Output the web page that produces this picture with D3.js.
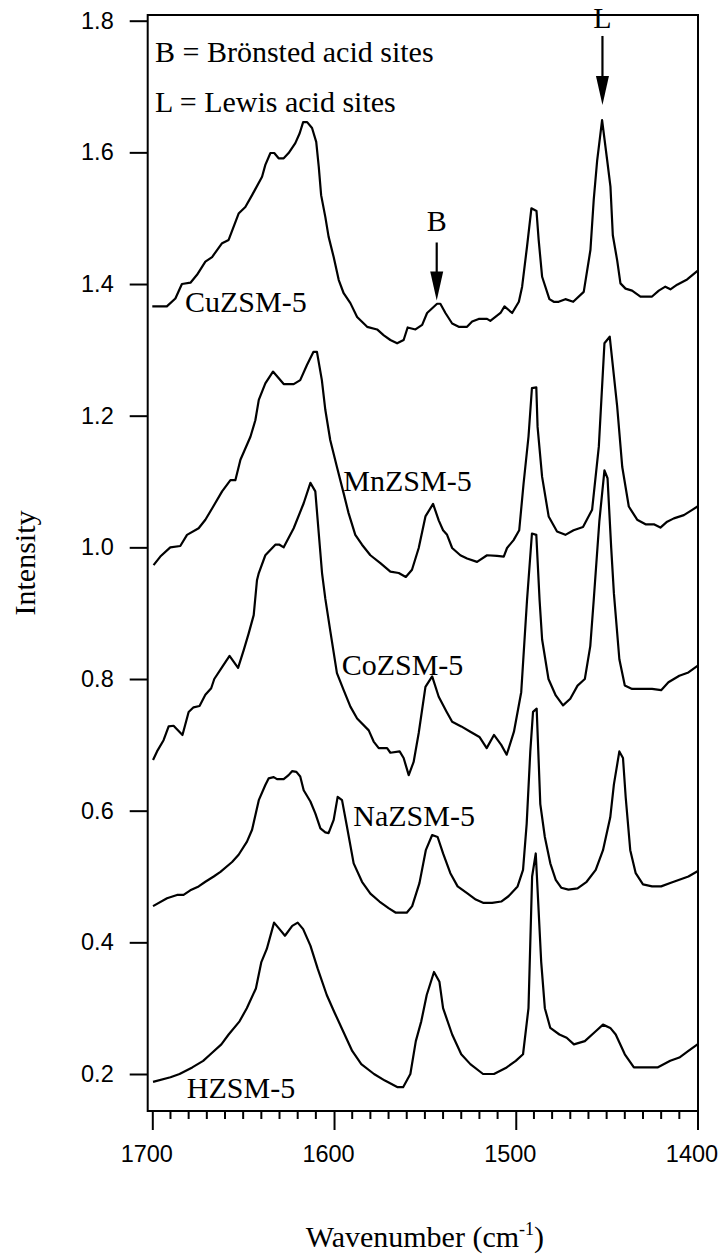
<!DOCTYPE html>
<html>
<head>
<meta charset="utf-8">
<script src="https://cdn.jsdelivr.net/npm/d3@7"></script>
<style>
  body { margin: 0; background: #fff; }
  svg { display: block; }
</style>
</head>
<body>
<div id="chart"></div>
<script>
// spectra: [wavenumber (cm-1), intensity]
const cuZSM5 = [[1700,1.366],[1692,1.366],[1687.3,1.378],[1683.7,1.400],[1679,1.402],[1675.4,1.414],[1670.8,1.434],[1667.1,1.441],[1661.6,1.462],[1658,1.467],[1652.5,1.507],[1648.8,1.517],[1645.1,1.535],[1639.6,1.563],[1637.8,1.581],[1635,1.599],[1632.9,1.599],[1630.5,1.591],[1627.7,1.591],[1625,1.599],[1621.3,1.614],[1618.9,1.629],[1617,1.646],[1614.8,1.646],[1612.1,1.637],[1609.8,1.616],[1608.4,1.578],[1607.1,1.535],[1604.8,1.502],[1603,1.472],[1600.2,1.441],[1597.4,1.406],[1594.7,1.386],[1591,1.371],[1587.3,1.350],[1581.8,1.335],[1576.3,1.331],[1572.6,1.322],[1569,1.315],[1565.3,1.310],[1561.7,1.315],[1559.5,1.334],[1555.2,1.331],[1551.5,1.338],[1548.8,1.356],[1543.3,1.370],[1541.5,1.370],[1538.7,1.356],[1535,1.340],[1531.4,1.335],[1526.8,1.335],[1524,1.343],[1520.4,1.347],[1515.8,1.347],[1514,1.344],[1508.4,1.356],[1506.2,1.366],[1502,1.356],[1498.3,1.373],[1496.5,1.396],[1493.8,1.457],[1491.4,1.515],[1488.6,1.511],[1487.4,1.467],[1485.5,1.411],[1481.5,1.377],[1479.1,1.373],[1476.4,1.373],[1472.7,1.377],[1468.4,1.373],[1462.6,1.388],[1458.9,1.452],[1457.1,1.528],[1455.2,1.588],[1452.5,1.649],[1449.7,1.588],[1447.9,1.548],[1446.6,1.474],[1444.2,1.436],[1442.4,1.401],[1439.6,1.393],[1436,1.390],[1431.4,1.381],[1425,1.381],[1421.3,1.390],[1417.7,1.396],[1414.9,1.392],[1411.2,1.399],[1405.7,1.407],[1400,1.420]];

const mnZSM5 = [[1699.3,0.973],[1695.6,0.986],[1690.1,1.000],[1684.6,1.002],[1680.9,1.019],[1674.5,1.029],[1670.8,1.042],[1667.1,1.059],[1661.6,1.085],[1657,1.102],[1654.3,1.102],[1651.5,1.133],[1646,1.168],[1643.3,1.193],[1641.4,1.224],[1637.8,1.249],[1633.6,1.267],[1627.7,1.248],[1622.2,1.248],[1618.6,1.254],[1614.9,1.277],[1611.3,1.297],[1609.4,1.297],[1606.7,1.254],[1604.8,1.209],[1602.1,1.163],[1598.4,1.122],[1594.7,1.082],[1592,1.052],[1588.3,1.019],[1584.6,1.004],[1580,0.988],[1574.5,0.976],[1569,0.963],[1564.4,0.961],[1560.5,0.955],[1557.1,0.966],[1553.4,0.999],[1549.7,1.047],[1545.5,1.066],[1542.4,1.041],[1540,1.026],[1537.8,1.019],[1535,0.999],[1530.5,0.988],[1526.8,0.983],[1521.3,0.978],[1515.8,0.988],[1510.3,0.987],[1506.6,0.986],[1504.8,0.999],[1501.2,1.011],[1498.1,1.026],[1495.7,1.097],[1493,1.168],[1491.1,1.242],[1488.7,1.243],[1488,1.183],[1485.5,1.107],[1481.9,1.047],[1477.3,1.024],[1472.7,1.019],[1468.2,1.026],[1463,1.031],[1458,1.057],[1454.3,1.153],[1451.2,1.310],[1448.3,1.320],[1444.2,1.214],[1441.4,1.122],[1437.8,1.062],[1433.2,1.042],[1428.6,1.035],[1424,1.035],[1420.4,1.030],[1416.7,1.039],[1413,1.044],[1407.5,1.049],[1402.9,1.057],[1400,1.062]];

const coZSM5 = [[1699.6,0.677],[1697.4,0.690],[1693.8,0.707],[1691,0.728],[1688.3,0.729],[1683.4,0.715],[1680,0.750],[1677.3,0.757],[1674,0.759],[1670.8,0.776],[1667.6,0.786],[1665.9,0.800],[1661.6,0.818],[1657.5,0.835],[1652.8,0.817],[1649.7,0.844],[1647,0.869],[1644.2,0.897],[1642.4,0.950],[1641.4,0.961],[1637.8,0.988],[1632.3,1.004],[1630,1.004],[1627.7,1.000],[1622.2,1.029],[1616.7,1.067],[1613,1.098],[1610.3,1.085],[1608.4,1.021],[1606.6,0.961],[1604.8,0.922],[1602,0.872],[1598.4,0.809],[1594.7,0.783],[1591,0.758],[1587.3,0.740],[1580.9,0.722],[1578.2,0.705],[1575.4,0.695],[1570.8,0.695],[1569,0.688],[1563.9,0.690],[1561.7,0.680],[1558.9,0.654],[1556.2,0.674],[1553.4,0.718],[1549.7,0.788],[1546,0.804],[1542.4,0.773],[1538,0.750],[1535,0.735],[1530,0.728],[1525,0.720],[1520,0.712],[1516,0.695],[1512,0.715],[1508,0.700],[1505,0.685],[1501,0.720],[1497,0.780],[1493.8,0.920],[1491.1,1.021],[1488.7,1.019],[1486.9,0.920],[1485.5,0.860],[1482,0.800],[1478,0.775],[1474,0.760],[1470,0.770],[1466,0.790],[1462,0.800],[1459,0.850],[1457.1,0.920],[1454,1.040],[1451.2,1.117],[1449.5,1.105],[1447.5,1.000],[1446,0.930],[1443,0.830],[1440,0.790],[1436,0.785],[1430,0.785],[1425,0.785],[1420,0.783],[1416,0.795],[1410,0.805],[1405,0.810],[1400,0.820]];

const naZSM5 = [[1699.6,0.455],[1691.9,0.467],[1686.4,0.472],[1682.8,0.472],[1679.1,0.479],[1674.5,0.485],[1670.8,0.492],[1666.2,0.500],[1662.5,0.507],[1656.1,0.522],[1652.5,0.533],[1647.9,0.553],[1645.1,0.571],[1641.4,0.616],[1637.8,0.639],[1636,0.649],[1633.2,0.651],[1631.4,0.648],[1627.7,0.648],[1625,0.654],[1623.1,0.660],[1620.7,0.659],[1618.6,0.652],[1616.7,0.631],[1613,0.614],[1610.3,0.596],[1607.5,0.573],[1604.8,0.567],[1603,0.566],[1600.2,0.586],[1598,0.621],[1595.6,0.616],[1592.9,0.576],[1589.2,0.520],[1584.6,0.492],[1580,0.474],[1575,0.462],[1570,0.452],[1566,0.445],[1560,0.445],[1557,0.455],[1553,0.490],[1549.5,0.540],[1546,0.563],[1543,0.560],[1540,0.535],[1536,0.505],[1532,0.485],[1527,0.475],[1522,0.465],[1518,0.460],[1513,0.460],[1508,0.462],[1504,0.470],[1499,0.485],[1496,0.510],[1494,0.580],[1492,0.690],[1490.5,0.750],[1488.5,0.755],[1486.5,0.610],[1484,0.560],[1481,0.520],[1478,0.495],[1475,0.483],[1471,0.480],[1466,0.482],[1461,0.492],[1456,0.510],[1452,0.540],[1448,0.590],[1446,0.640],[1443,0.690],[1441,0.680],[1439.5,0.620],[1437,0.540],[1434,0.505],[1430,0.488],[1425,0.485],[1420,0.485],[1415,0.490],[1410,0.495],[1405,0.500],[1400,0.508]];

const hZSM5 = [[1699.6,0.188],[1690,0.195],[1685,0.200],[1678,0.210],[1672,0.220],[1668,0.230],[1662,0.245],[1658,0.260],[1652,0.280],[1648,0.300],[1643,0.330],[1640,0.370],[1637,0.390],[1633,0.430],[1630,0.420],[1627,0.410],[1623,0.425],[1620,0.430],[1617,0.420],[1613,0.395],[1609,0.360],[1604,0.320],[1600,0.295],[1595,0.265],[1590,0.235],[1585,0.215],[1578,0.200],[1572,0.190],[1565,0.180],[1562,0.180],[1558,0.200],[1555,0.250],[1552,0.280],[1549,0.320],[1545,0.355],[1542,0.340],[1540,0.300],[1535,0.260],[1530,0.230],[1525,0.215],[1518,0.200],[1512,0.200],[1505,0.210],[1500,0.220],[1496,0.230],[1493,0.300],[1491,0.500],[1489,0.535],[1486,0.370],[1484,0.300],[1481,0.270],[1476,0.260],[1472,0.255],[1468,0.245],[1462,0.250],[1456,0.265],[1452,0.275],[1448,0.270],[1445,0.260],[1440,0.230],[1435,0.210],[1428,0.210],[1422,0.210],[1415,0.220],[1410,0.225],[1405,0.235],[1400,0.245]];

const spectra = [cuZSM5, mnZSM5, coZSM5, naZSM5, hZSM5];
const sampleNames = ["CuZSM-5", "MnZSM-5", "CoZSM-5", "NaZSM-5", "HZSM-5"];
// [wavenumber, intensity] where each name's baseline starts
const labelAnchors = [[1682, 1.358], [1594.9, 1.085], [1595.8, 0.806], [1589.4, 0.576], [1681, 0.164]];
const yTicks = [0.2, 0.4, 0.6, 0.8, 1.0, 1.2, 1.4, 1.6, 1.8];
const xTicks = [1700, 1600, 1500, 1400];
const xMinorTicks = d3.range(1700, 1399, -10).filter(d => d % 100 !== 0);
// peak markers: letter, wavenumber, arrow tip intensity, text baseline above tip (px), line top above tip (px)
const markers = [["B", 1543.5, 1.375, 69, 58], ["L", 1452.3, 1.672, 77, 69]];
const legendLines = ["B = Brönsted acid sites", "L = Lewis acid sites"];

const W = 721, H = 1255;
const serif = "'Liberation Serif', 'Times New Roman', serif";
const sans = "'Liberation Sans', Arial, sans-serif";

const svg = d3.select("#chart").append("svg")
    .attr("width", W)
    .attr("height", H);

const x = d3.scaleLinear().domain([1700, 1400]).range([152.3, 697.5]);
const y = d3.scaleLinear().domain([0.2, 1.8]).range([1074, 20.7]);

const frameLeft = 147.7, frameRight = 698, frameTop = 15, frameBottom = 1111;

// frame (left + bottom axis lines, top and right border)
svg.append("rect")
    .attr("x", frameLeft).attr("y", frameTop)
    .attr("width", frameRight - frameLeft).attr("height", frameBottom - frameTop)
    .attr("fill", "none").attr("stroke", "#000").attr("stroke-width", 2);

// y axis
const yAxis = svg.append("g")
    .attr("transform", `translate(${frameLeft},0)`)
    .call(d3.axisLeft(y).tickValues(yTicks).tickFormat(d3.format(".1f")).tickSize(18).tickPadding(16));
yAxis.select(".domain").remove();
yAxis.selectAll("line").attr("stroke-width", 2);
yAxis.selectAll("text").attr("font-family", sans).attr("font-size", 23.5).attr("fill", "#000");

// x axis, major + minor ticks
const xAxis = svg.append("g")
    .attr("transform", `translate(0,${frameBottom})`)
    .call(d3.axisBottom(x).tickValues(xTicks).tickFormat(d3.format("d")).tickSize(19).tickPadding(15));
xAxis.select(".domain").remove();
xAxis.selectAll("line").attr("stroke-width", 2);
xAxis.selectAll("text").attr("font-family", sans).attr("font-size", 23.5).attr("fill", "#000").attr("dx", -6);

svg.append("g")
    .selectAll("line")
    .data(xMinorTicks)
    .join("line")
    .attr("x1", d => x(d)).attr("x2", d => x(d))
    .attr("y1", frameBottom).attr("y2", frameBottom + 8)
    .attr("stroke", "#000").attr("stroke-width", 2);

// spectra
const line = d3.line()
    .x(d => x(d[0]))
    .y(d => y(d[1]));

svg.append("g")
    .selectAll("path")
    .data(spectra)
    .join("path")
    .attr("d", line)
    .attr("fill", "none")
    .attr("stroke", "#000")
    .attr("stroke-width", 2.2)
    .attr("stroke-linejoin", "round");

// sample names
svg.append("g")
    .selectAll("text")
    .data(sampleNames)
    .join("text")
    .attr("x", (d, i) => x(labelAnchors[i][0]))
    .attr("y", (d, i) => y(labelAnchors[i][1]))
    .attr("font-family", serif)
    .attr("font-size", 30)
    .text(d => d);

// legend text
svg.append("g")
    .selectAll("text")
    .data(legendLines)
    .join("text")
    .attr("x", 155)
    .attr("y", (d, i) => 62 + i * 50)
    .attr("font-family", serif)
    .attr("font-size", 30)
    .text(d => d);

// B / L arrows
const mk = svg.append("g")
    .selectAll("g")
    .data(markers)
    .join("g")
    .attr("transform", d => `translate(${x(d[1])},${y(d[2])})`);

mk.append("line")
    .attr("x1", 0).attr("x2", 0)
    .attr("y1", d => -d[4]).attr("y2", -20)
    .attr("stroke", "#000").attr("stroke-width", 2.2);

mk.append("path")
    .attr("d", "M-6.5,-29 L6.5,-29 L0,0 Z")
    .attr("fill", "#000");

mk.append("text")
    .attr("x", 0)
    .attr("y", d => -d[3])
    .attr("text-anchor", "middle")
    .attr("font-family", serif)
    .attr("font-size", 30)
    .text(d => d[0]);

// axis titles
svg.append("text")
    .attr("transform", `translate(35,${(frameTop + frameBottom) / 2}) rotate(-90)`)
    .attr("text-anchor", "middle")
    .attr("font-family", serif)
    .attr("font-size", 30)
    .text("Intensity");

const xTitle = svg.append("text")
    .attr("x", (x(1700) + x(1400)) / 2)
    .attr("y", 1247)
    .attr("text-anchor", "middle")
    .attr("font-family", serif)
    .attr("font-size", 30);
xTitle.append("tspan").text("Wavenumber (cm");
xTitle.append("tspan").attr("font-size", 18).attr("dy", -12).text("-1");
xTitle.append("tspan").attr("dy", 12).text(")");
</script>
</body>
</html>
